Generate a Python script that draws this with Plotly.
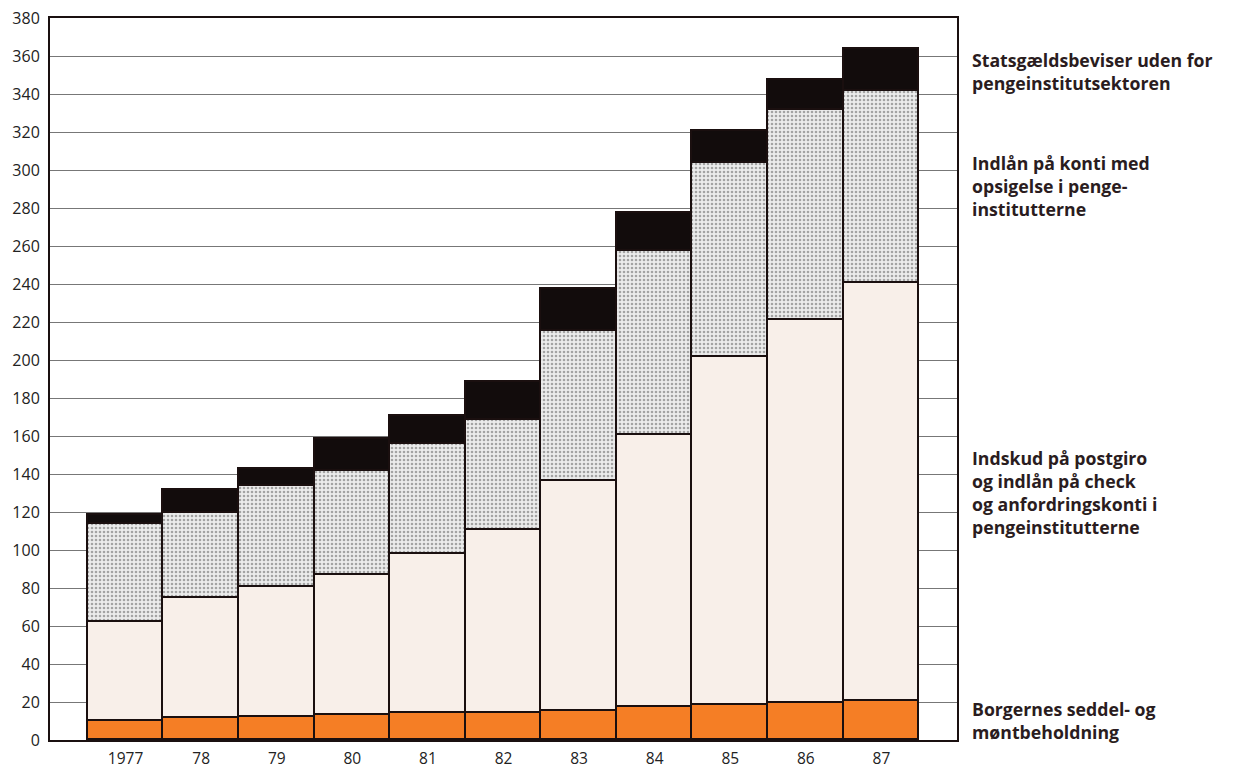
import plotly.graph_objects as go

years = ["1977", "78", "79", "80", "81", "82", "83", "84", "85", "86", "87"]
cash = [10.2, 11.4, 12.2, 13.1, 14.4, 14.3, 15.2, 17.2, 18.6, 19.5, 20.3]
demand = [52.1, 63.1, 68.1, 74.0, 83.7, 96.1, 121.0, 143.1, 183.2, 201.6, 220.1]
notice = [51.4, 45.1, 53.2, 54.3, 57.5, 58.1, 79.0, 96.9, 101.8, 110.6, 101.3]
bonds = [4.7, 12.2, 8.9, 17.2, 14.7, 19.9, 22.3, 20.0, 17.0, 15.7, 21.9]

label_lines = [
    ["Borgernes seddel- og", "møntbeholdning"],
    ["Indskud på postgiro", "og indlån på check", "og anfordringskonti i", "pengeinstitutterne"],
    ["Indlån på konti med", "opsigelse i penge-", "institutterne"],
    ["Statsgældsbeviser uden for", "pengeinstitutsektoren"],
]

FONT = "'Open Sans', Lato, sans-serif"
# page body has an 8px offset; plot area target in window px: x 50..957, y 18..740
OFF = 8
W, H = 1241 - OFF, 769 - OFF
L, T = 50 - OFF, 18 - OFF
R = W - (957 - OFF)
B = H - (740 - OFF)

line = dict(color="#1a0f0f", width=1.6)
fig = go.Figure()
fig.add_bar(x=years, y=cash, name=" ".join(label_lines[0]), marker=dict(color="#f57e25", line=line))
fig.add_bar(x=years, y=demand, name=" ".join(label_lines[1]), marker=dict(color="#f8efe9", line=line))
fig.add_bar(x=years, y=notice, name=" ".join(label_lines[2]),
            marker=dict(color="#e0e0e0", line=line,
                        pattern=dict(shape=".", fgcolor="#5a5a5a", bgcolor="#ececec",
                                     size=4, solidity=0.33)))
fig.add_bar(x=years, y=bonds, name=" ".join(label_lines[3]), marker=dict(color="#120c0c", line=line))

# right-side labels: first-line centre (window px), line spacing ~23px
first_centres = [709, 458, 163, 60]
annotations = []
for c, lines in zip(first_centres, label_lines):
    mid = c + 23 * (len(lines) - 1) / 2
    annotations.append(dict(
        xref="paper", yref="paper",
        x=(971 - 50) / 907, y=1 - (mid - 18) / 722,
        xanchor="left", yanchor="middle", align="left", showarrow=False,
        borderpad=0,
        text="<b>" + "<br>".join(lines) + "</b>",
        font=dict(family=FONT, size=17.7, color="#2a1c20"),
    ))

fig.update_layout(
    barmode="stack", bargap=0,
    width=W, height=H,
    margin=dict(l=L, r=R, t=T, b=B),
    plot_bgcolor="white", paper_bgcolor="white",
    showlegend=False,
    annotations=annotations,
    font=dict(family=FONT, size=16, color="#222"),
)
fig.update_xaxes(type="category", range=[-1, 11], showgrid=False, ticks="",
                 automargin=False, ticklabelstandoff=3, ticklabeloverflow="allow",
                 showline=True, linecolor="#1a1010", linewidth=2, mirror=True,
                 tickfont=dict(family=FONT, size=15.5, color="#222"))
fig.update_yaxes(range=[0, 380], dtick=20, showgrid=True, gridcolor="#777", gridwidth=1,
                 automargin=False, ticklabelstandoff=5, ticklabeloverflow="allow",
                 showline=True, linecolor="#1a1010", linewidth=2, mirror=True,
                 zeroline=False, ticks="", tickfont=dict(family=FONT, size=16, color="#222"))

fig.write_html("out.html")
